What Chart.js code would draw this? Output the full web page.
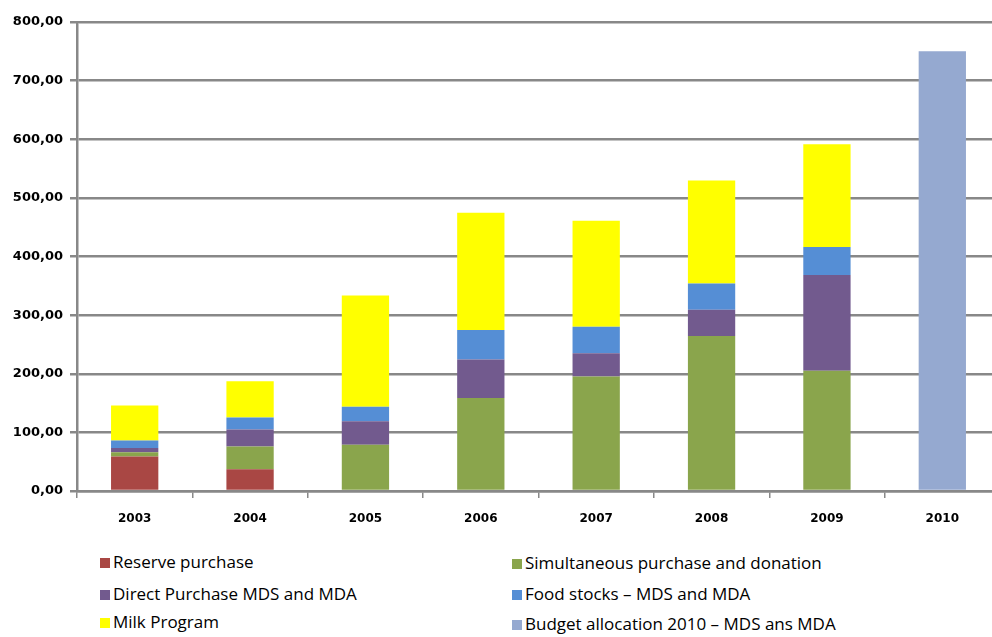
<!DOCTYPE html>
<html>
<head>
<meta charset="utf-8">
<script src="https://cdn.jsdelivr.net/npm/chart.js@4/dist/chart.umd.min.js"></script>
<style>
  body { margin: 0; background: #fff; overflow: hidden; width: 992px; height: 637px; position: relative; }
  #wrap { position: absolute; left: 0; top: 0; width: 1000px; height: 540px; }
  .leg { position: absolute; font-family: "Open Sans", sans-serif; font-size: 17px; color: #000; white-space: nowrap; line-height: 20px; }
  .leg span.box { display: inline-block; width: 10px; height: 10px; margin-right: 3px; vertical-align: 0px; }
</style>
</head>
<body>
<div id="wrap"><canvas id="chart" width="1000" height="540"></canvas></div>
<div id="legend"></div>
<script>
const years = ["2003", "2004", "2005", "2006", "2007", "2008", "2009", "2010"];

// values per year (millions), bottom of the stack first
const reservePurchase = [59, 37, null, null, null, null, null, null];
const simultaneous = [7, 39, 79, 158.5, 195.5, 264.5, 205, null];
const directPurchase = [7.5, 29, 40, 66, 39.5, 44.5, 163.5, null];
const foodStocks = [12.5, 20.5, 24.5, 50, 45, 45, 47.5, null];
const milkProgram = [60, 61.5, 190, 200, 181, 175.5, 175.5, null];
const budget2010 = [null, null, null, null, null, null, null, 750];

const yTicks = [0, 100, 200, 300, 400, 500, 600, 700, 800];

const series = [
  { label: "Reserve purchase", data: reservePurchase, color: "#A94744" },
  { label: "Simultaneous purchase and donation", data: simultaneous, color: "#8AA54C" },
  { label: "Direct Purchase MDS and MDA", data: directPurchase, color: "#725A8E" },
  { label: "Food stocks – MDS and MDA", data: foodStocks, color: "#558ED5" },
  { label: "Milk Program", data: milkProgram, color: "#FFFF00" },
  { label: "Budget allocation 2010 – MDS ans MDA", data: budget2010, color: "#95A9D0" }
];

const gridGray = "#888888";

// the top gridline is not drawn by the scale itself, so stroke it here
const topLine = {
  id: "topLine",
  beforeDatasetsDraw(chart) {
    const y = Math.round(chart.scales.y.getPixelForValue(yTicks[yTicks.length - 1]));
    const ctx = chart.ctx;
    ctx.save();
    ctx.strokeStyle = gridGray;
    ctx.lineWidth = 2;
    ctx.beginPath();
    ctx.moveTo(chart.chartArea.left, y);
    ctx.lineTo(chart.chartArea.right, y);
    ctx.stroke();
    ctx.restore();
  }
};

const chart = new Chart(document.getElementById("chart"), {
  type: "bar",
  data: {
    labels: years,
    datasets: series.map(s => ({
      label: s.label,
      data: s.data,
      backgroundColor: s.color,
      borderWidth: 0,
      categoryPercentage: 1,
      barPercentage: 0.41
    }))
  },
  options: {
    responsive: false,
    devicePixelRatio: 1,
    animation: false,
    layout: { padding: { top: 22, left: 0, right: 0, bottom: 0 } },
    plugins: { legend: { display: false }, tooltip: { enabled: false } },
    scales: {
      x: {
        stacked: true,
        offset: true,
        grid: { display: true, drawOnChartArea: false, offset: true, color: gridGray, lineWidth: 1.5, tickLength: 7 },
        border: { display: true, color: gridGray, width: 2.5 },
        ticks: { color: "#000", padding: 14, font: { family: "DejaVu Sans", size: 12, weight: "bold" } },
        afterFit: scale => { scale.height = 49; }
      },
      y: {
        stacked: true,
        min: 0,
        max: 800,
        afterBuildTicks: scale => { scale.ticks = yTicks.map(v => ({ value: v })); },
        grid: { color: gridGray, lineWidth: 2.5, tickLength: 7 },
        border: { display: true, color: gridGray, width: 2.5 },
        ticks: {
          color: "#000",
          padding: 7,
          font: { family: "DejaVu Sans", size: 13, weight: "bold" },
          callback: v => v.toFixed(2).replace(".", ",")
        },
        afterFit: scale => { scale.width = 77; }
      }
    }
  },
  plugins: [topLine]
});

// legend in two columns under the plot
const legendPos = [
  [100, 552], [512, 553],
  [100, 584], [512, 584],
  [100, 612], [512, 614]
];
const legend = document.getElementById("legend");
chart.data.datasets.forEach((ds, i) => {
  const item = document.createElement("div");
  item.className = "leg";
  item.style.left = legendPos[i][0] + "px";
  item.style.top = legendPos[i][1] + "px";
  item.innerHTML = '<span class="box" style="background:' + ds.backgroundColor + '"></span>' + ds.label;
  legend.appendChild(item);
});
</script>
</body>
</html>
